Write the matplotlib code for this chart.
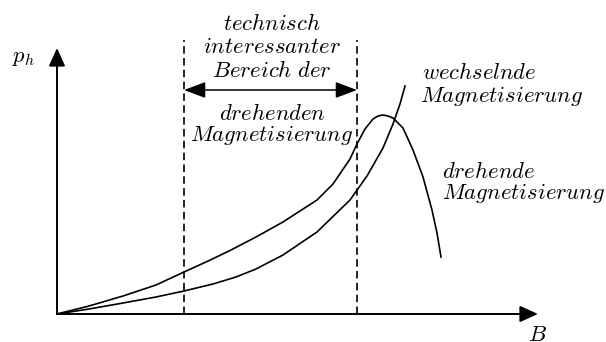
import matplotlib
matplotlib.use("Agg")
from matplotlib import pyplot as plt

plt.rcParams['mathtext.fontset'] = 'cm'

# hysteresis loss p_h over flux density B (arbitrary units)
B_dreh = [0, 32, 66, 99, 127, 149, 172, 199, 226, 260, 276, 293, 300, 308,
          316, 321, 326, 331, 336, 346, 356, 366, 375, 380, 384]
p_dreh = [0, 8, 18, 29, 42, 52, 63, 77, 92, 114, 130, 155, 170, 185,
          195, 198, 199, 198, 196, 186, 164, 137, 104, 81, 57]

B_wech = [0, 32, 66, 99, 127, 156, 179, 199, 226, 260, 293, 310, 326, 336, 343, 348]
p_wech = [0, 5, 11, 17, 23, 30, 37, 45, 59, 82, 114, 138, 166, 190, 210, 228]

# limits of the technically interesting range
B_range = [127, 300]

fig = plt.figure(figsize=(6.06, 3.42), dpi=100)
ax = fig.add_axes([0, 0, 1, 1])
ax.set_xlim(-57, 549)
ax.set_ylim(-28, 314)
ax.axis('off')

lw_axis = 1.4
# axes with filled arrow heads
arr = dict(arrowstyle='-|>,head_length=1.0,head_width=0.45', mutation_scale=11,
           color='black', lw=lw_axis, shrinkA=0, shrinkB=0)
ax.annotate('', xy=(0, 266), xytext=(0, 0), arrowprops=arr)
ax.annotate('', xy=(481, 0), xytext=(0, 0), arrowprops=arr)

ax.plot(B_dreh, p_dreh, color='black', lw=1.2, solid_joinstyle='round')
ax.plot(B_wech, p_wech, color='black', lw=1.2, solid_joinstyle='round')

for b in B_range:
    ax.plot([b, b], [0, 274], color='black', lw=1.2, dashes=(4.5, 2.6))

ax.annotate('', xy=(B_range[0], 224), xytext=(B_range[1], 224),
            arrowprops=dict(arrowstyle='<|-|>,head_length=1.2,head_width=0.45',
                            mutation_scale=11, color='black', lw=1.1,
                            shrinkA=0, shrinkB=0))

fs = 16.3
mid = 215
ax.text(mid, 314 - 30, r'$technisch$', ha='center', va='baseline', fontsize=fs)
ax.text(mid, 314 - 53, r'$interessanter$', ha='center', va='baseline', fontsize=fs)
ax.text(mid, 314 - 77, r'$Bereich\ der$', ha='center', va='baseline', fontsize=fs)
ax.text(mid, 314 - 120, r'$drehenden$', ha='center', va='baseline', fontsize=fs)
ax.text(mid, 314 - 141, r'$Magnetisierung$', ha='center', va='baseline', fontsize=fs)

ax.text(365, 314 - 79, r'$wechselnde$', ha='left', va='baseline', fontsize=fs)
ax.text(363, 314 - 102, r'$Magnetisierung$', ha='left', va='baseline', fontsize=fs)
ax.text(385, 314 - 178, r'$drehende$', ha='left', va='baseline', fontsize=fs)
ax.text(385, 314 - 199, r'$Magnetisierung$', ha='left', va='baseline', fontsize=fs)

ax.text(-45, 314 - 62, r'$p_h$', ha='left', va='baseline', fontsize=fs)
ax.text(480, 314 - 341, r'$B$', ha='center', va='baseline', fontsize=fs)

fig.savefig('out.png', dpi=100)
